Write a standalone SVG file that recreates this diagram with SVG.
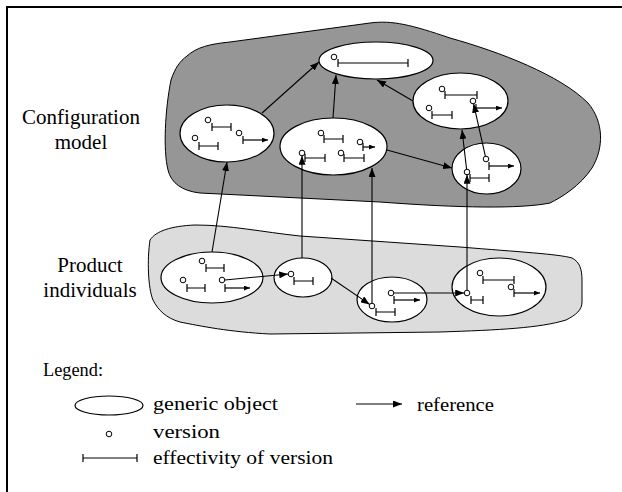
<svg xmlns="http://www.w3.org/2000/svg" width="622" height="492" viewBox="0 0 622 492">
<style>
.frame{fill:#fff;stroke:#000;stroke-width:2}
.dark{fill:#969696;stroke:#000;stroke-width:1}
.light{fill:#dcdcdc;stroke:#000;stroke-width:1}
.node{fill:#fff;stroke:#000;stroke-width:1.2}
.ver{fill:#fff;stroke:#000;stroke-width:1}
.eff{fill:none;stroke:#000;stroke-width:1.2}
.effa{fill:none;stroke:#000;stroke-width:1.2;marker-end:url(#ahs)}
.ref{fill:none;stroke:#000;stroke-width:1.1;marker-end:url(#ah)}
text{fill:#000}
</style>
<defs>
<marker id="ah" viewBox="0 0 9 7" refX="9" refY="3.5" markerWidth="9" markerHeight="7" markerUnits="userSpaceOnUse" orient="auto"><path d="M0,0 L9,3.5 L0,7 z" fill="#000"/></marker>
<marker id="ahs" viewBox="0 0 6 5" refX="6" refY="2.5" markerWidth="6" markerHeight="5" markerUnits="userSpaceOnUse" orient="auto"><path d="M0,0 L6,2.5 L0,5 z" fill="#000"/></marker>
</defs>
<rect class="frame" x="7" y="7" width="640" height="500"/>

<g id="configuration-model-region">
<path class="dark" d="M187,56 C197,47 210,44 230,42 L370,23 C392,20 412,25 450,38 C500,52 560,75 588,103 C604,122 604,148 592,168 C580,186 562,197 550,203 C520,209 460,208 380,202 L200,193 C182,191 171,183 168,170 C163,150 165,110 171,80 C175,68 180,61 187,56 Z"/>
</g>
<g id="product-individuals-region">
<path class="light" d="M150,240 C156,231 171,226 195,225 C230,225 262,232 300,236 L460,247 C520,252 558,254 572,258 C580,262 582,270 582,280 L582,302 C582,310 576,315 566,320 C540,328 500,330 440,332 L270,334 C230,332 200,326 180,322 C166,318 158,310 153,300 C148,288 147,260 150,240 Z"/>
</g>

<g id="label-config" font-family="Liberation Serif, Times New Roman, Times, serif" font-size="21">
<text x="81" y="124" text-anchor="middle">Configuration</text>
<text x="81" y="149" text-anchor="middle">model</text>
</g>
<g id="label-product" font-family="Liberation Serif, Times New Roman, Times, serif" font-size="21">
<text x="90" y="272" text-anchor="middle">Product</text>
<text x="90" y="297" text-anchor="middle">individuals</text>
</g>

<g id="cm-top">
<ellipse class="node" cx="376" cy="60.5" rx="57" ry="18.5"/>
<circle class="ver" cx="334" cy="57" r="2.8"/>
<path class="eff" d="M338,63 H408 M338,59 V67 M408,59 V67"/>
</g>
<g id="cm-left">
<ellipse class="node" cx="227" cy="133.5" rx="47" ry="28.5"/>
<circle class="ver" cx="208" cy="120" r="2.8"/>
<path class="eff" d="M212,127 H231 M212,123 V131 M231,123 V131"/>
<circle class="ver" cx="195" cy="138" r="2.8"/>
<path class="eff" d="M199,146 H218 M199,142 V150 M218,142 V150"/>
<circle class="ver" cx="239" cy="133" r="2.8"/>
<path class="eff" d="M243,136 V144"/>
<path class="effa" d="M243,140 H268"/>
</g>
<g id="cm-middle">
<ellipse class="node" cx="333.5" cy="146.5" rx="53.5" ry="28.5"/>
<circle class="ver" cx="321" cy="133" r="2.8"/>
<path class="eff" d="M324,139 H343 M324,135 V143 M343,135 V143"/>
<circle class="ver" cx="360" cy="142" r="2.8"/>
<path class="eff" d="M363,143 V151"/>
<path class="effa" d="M363,147 H375"/>
<circle class="ver" cx="302" cy="153" r="2.8"/>
<path class="eff" d="M305,158 H325 M305,154 V162 M325,154 V162"/>
<circle class="ver" cx="341" cy="153" r="2.8"/>
<path class="eff" d="M344,158 H364 M344,154 V162 M364,154 V162"/>
</g>
<g id="cm-right-upper">
<ellipse class="node" cx="460.5" cy="101" rx="47.5" ry="28"/>
<circle class="ver" cx="442" cy="89" r="2.8"/>
<path class="eff" d="M445,95 H477 M445,91 V99 M477,91 V99"/>
<circle class="ver" cx="429" cy="108" r="2.8"/>
<path class="eff" d="M432,115 H452 M432,111 V119 M452,111 V119"/>
<circle class="ver" cx="473" cy="101" r="2.8"/>
<path class="eff" d="M476,104 V112"/>
<path class="effa" d="M476,108 H502"/>
</g>
<g id="cm-right-lower">
<ellipse class="node" cx="486.5" cy="168.5" rx="34.5" ry="25.5"/>
<circle class="ver" cx="486" cy="159" r="2.8"/>
<path class="eff" d="M489,162 V170"/>
<path class="effa" d="M489,166 H514"/>
<circle class="ver" cx="467" cy="172" r="2.8"/>
<path class="eff" d="M470,178 H489 M470,174 V182 M489,174 V182"/>
</g>

<g id="pi-1">
<ellipse class="node" cx="212" cy="277.5" rx="51" ry="25.5"/>
<circle class="ver" cx="202" cy="261" r="2.8"/>
<path class="eff" d="M206,268 H224 M206,264 V272 M224,264 V272"/>
<circle class="ver" cx="183" cy="280" r="2.8"/>
<path class="eff" d="M187,288 H205 M187,284 V292 M205,284 V292"/>
<circle class="ver" cx="222" cy="280" r="2.8"/>
<path class="eff" d="M225,284 V292"/>
<path class="effa" d="M225,288 H250"/>
</g>
<g id="pi-2">
<ellipse class="node" cx="303" cy="277.5" rx="29" ry="19.5"/>
<circle class="ver" cx="291" cy="274" r="2.8"/>
<path class="eff" d="M294,281 H313 M294,277 V285 M313,277 V285"/>
</g>
<g id="pi-3">
<ellipse class="node" cx="392" cy="299.5" rx="35" ry="22.5"/>
<circle class="ver" cx="372" cy="306" r="2.8"/>
<path class="eff" d="M376,312 H395 M376,308 V316 M395,308 V316"/>
<circle class="ver" cx="391" cy="293" r="2.8"/>
<path class="eff" d="M394,296 V304"/>
<path class="effa" d="M394,300 H420"/>
</g>
<g id="pi-4">
<ellipse class="node" cx="499" cy="287" rx="47" ry="29"/>
<circle class="ver" cx="467" cy="293" r="2.8"/>
<path class="eff" d="M471,300 H483 M471,296 V304 M483,296 V304"/>
<circle class="ver" cx="480" cy="273" r="2.8"/>
<path class="eff" d="M483,280 H514 M483,276 V284 M514,276 V284"/>
<circle class="ver" cx="511" cy="287" r="2.8"/>
<path class="eff" d="M514,289 V297"/>
<path class="effa" d="M514,293 H540"/>
</g>

<g id="connectors">
<path class="ref" d="M224.8,280 L288.2,274"/>
<path class="ref" d="M331,278 L369.7,304.4"/>
<path class="ref" d="M393.8,293 L464.2,293"/>
<path class="ref" d="M212,252 L227,162"/>
<path class="ref" d="M302,258 L302,155.8"/>
<path class="ref" d="M372,303.2 L372,168"/>
<path class="ref" d="M467,290.2 L467,174.8"/>
<path class="ref" d="M262,113 L319,62"/>
<path class="ref" d="M333,118 L336,75"/>
<path class="ref" d="M413,101 L377,80"/>
<path class="ref" d="M387,150 L452,168"/>
<path class="ref" d="M466.6,169.2 L462,130"/>
<path class="ref" d="M485.4,156.3 L473.6,103.8"/>
</g>

<g id="legend" font-family="Liberation Serif, Times New Roman, Times, serif" font-size="19">
<text x="43" y="376" textLength="60" lengthAdjust="spacingAndGlyphs">Legend:</text>
<ellipse class="node" cx="109" cy="405.5" rx="34" ry="9.5"/>
<text x="153" y="410" textLength="125" lengthAdjust="spacingAndGlyphs">generic object</text>
<circle class="ver" cx="109" cy="434" r="2.8"/>
<text x="153" y="438" textLength="67" lengthAdjust="spacingAndGlyphs">version</text>
<path class="eff" d="M83,458 H137 M83,454 V462 M137,454 V462"/>
<text x="153" y="464" textLength="180" lengthAdjust="spacingAndGlyphs">effectivity of version</text>
<path class="ref" d="M356,404 L402,404"/>
<text x="417" y="411" textLength="77" lengthAdjust="spacingAndGlyphs">reference</text>
</g>
</svg>
